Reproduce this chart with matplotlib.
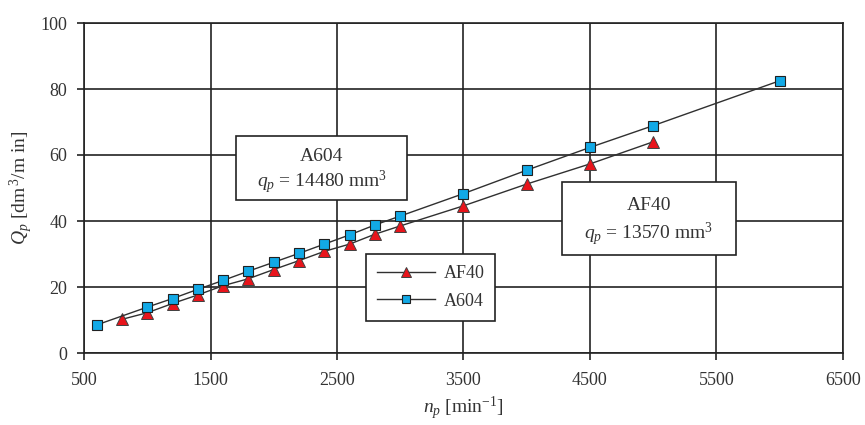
import numpy as np
import matplotlib.pyplot as plt
from matplotlib.patches import Rectangle

# rotational speed n_p [1/min]
n_af40 = [800, 1000, 1200, 1400, 1600, 1800, 2000, 2200, 2400, 2600, 2800, 3000, 3500, 4000, 4500, 5000]
q_af40 = [10.2, 12.2, 15.0, 17.6, 20.4, 22.5, 25.3, 28.0, 30.8, 33.0, 36.0, 38.5, 44.6, 51.2, 57.3, 64.0]

n_a604 = [600, 1000, 1200, 1400, 1600, 1800, 2000, 2200, 2400, 2600, 2800, 3000, 3500, 4000, 4500, 5000, 6000]
q_a604 = [8.5, 13.9, 16.5, 19.3, 22.0, 24.8, 27.5, 30.2, 33.0, 35.8, 38.8, 41.5, 48.3, 55.4, 62.3, 68.9, 82.5]

x_ticks = [500, 1500, 2500, 3500, 4500, 5500, 6500]
y_ticks = [0, 20, 40, 60, 80, 100]

plt.rcParams['font.family'] = ['Liberation Serif', 'DejaVu Serif']
plt.rcParams['mathtext.fontset'] = 'custom'
plt.rcParams['mathtext.rm'] = 'Liberation Serif'
plt.rcParams['mathtext.it'] = 'Liberation Serif:italic'

fig = plt.figure(figsize=(8.65, 4.25), dpi=100)
ax = fig.add_axes([84 / 865, 1 - 353 / 425, 759 / 865, 330 / 425])

ax.plot(n_af40, q_af40, color='#303030', lw=1.0, marker='^', ms=8.5,
        mfc='#E8141B', mec='#404040', mew=0.7, label='AF40', zorder=3)
ax.plot(n_a604, q_a604, color='#303030', lw=1.0, marker='s', ms=6.5,
        mfc='#12A9E6', mec='#202020', mew=0.8, label='A604', zorder=4)

ax.set_xlim(500, 6500)
ax.set_ylim(0, 100)
ax.set_xticks(x_ticks)
ax.set_yticks(y_ticks)
ax.grid(True, color='#222222', lw=1.2)
ax.set_axisbelow(True)
for s in ax.spines.values():
    s.set_color('#222222')
    s.set_linewidth(1.2)
ax.tick_params(direction='out', length=5, width=1.2, color='#222222',
               labelsize=13, labelcolor='#333333')
ax.tick_params(axis='x', pad=9)
ax.tick_params(axis='y', pad=7)

ax.set_xlabel(r'$n_p$ [min$^{-1}$]', fontsize=14, color='#333333', labelpad=4)
ax.set_ylabel(r'$Q_p$ [dm$^{\,3}$/m in]', fontsize=14, color='#333333', labelpad=4)

# annotation boxes
for (x0, x1, y0, y1), head, qp in [((1703, 3057, 46.4, 65.8), 'A604', '14480'),
                                   ((4277, 5655, 29.7, 51.8), 'AF40', '13570')]:
    ax.add_patch(Rectangle((x0, y0), x1 - x0, y1 - y0, fc='white', ec='#222222',
                           lw=1.2, zorder=5))
    xc = (x0 + x1) / 2
    h = y1 - y0
    ax.text(xc, y1 - 0.32 * h, head, ha='center', va='center', fontsize=14,
            color='#333333', zorder=6)
    ax.text(xc, y1 - 0.72 * h, r'$q_p$ = ' + qp + r' mm$^3$', ha='center', va='center',
            fontsize=14, color='#333333', zorder=6)

leg = ax.legend(loc='upper left', bbox_to_anchor=((366 - 84) / 759, (353 - 254) / 330),
                borderaxespad=0, frameon=True, fancybox=False, fontsize=13,
                handlelength=3.2, borderpad=0.6, labelspacing=0.6, handletextpad=0.5)
leg.get_frame().set_edgecolor('#222222')
leg.get_frame().set_linewidth(1.2)
leg.get_frame().set_alpha(1)
for t in leg.get_texts():
    t.set_color('#333333')
leg.legend_handles[0].set_markersize(6.5)
leg.legend_handles[1].set_markersize(6)

fig.savefig('out.png', dpi=100)
